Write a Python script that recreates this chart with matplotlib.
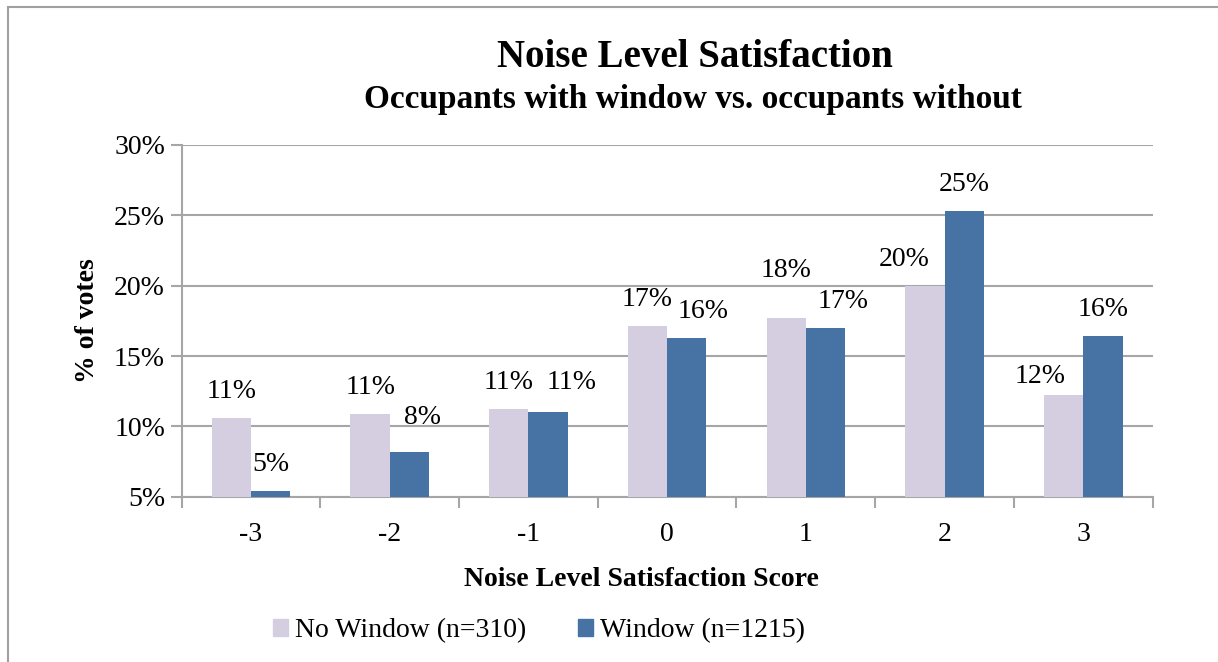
import matplotlib
matplotlib.use("Agg")
import matplotlib.pyplot as plt
from matplotlib.patches import Patch, Rectangle
import numpy as np

categories = ["-3", "-2", "-1", "0", "1", "2", "3"]
no_window = [10.6, 10.9, 11.2, 17.1, 17.7, 20.0, 12.2]
window = [5.4, 8.2, 11.0, 16.3, 17.0, 25.3, 16.4]
series_names = ["No Window (n=310)", "Window (n=1215)"]
yticks = [5, 10, 15, 20, 25, 30]

# data-label nudges (pixels: right, up) as placed in the reference
nw_label_dx = [0, 0, 0, 0, 0, -21, -24]
nw_label_dy = [20, 20, 20, 20, 41, 20, 12]
w_label_dx = [0, 13, 24, 16, 18, 0, 0]
w_label_dy = [20, 28, 23, 20, 20, 20, 20]

FONT = "Liberation Serif"
c_nw = "#D5CEE1"
c_w = "#4672A4"
grid_c = "#A6A6A6"
PX = 0.72  # points per pixel at dpi 100

fig = plt.figure(figsize=(12.18, 6.62), dpi=100)
ax = fig.add_axes([181.7/1218, 1-496.7/662, (1152.6-181.7)/1218, (496.7-145)/662])

x = np.arange(len(categories))
w = 0.283
ax.bar(x - w/2, np.array(no_window) - 5, width=w, bottom=5, color=c_nw, zorder=3)
ax.bar(x + w/2, np.array(window) - 5, width=w, bottom=5, color=c_w, zorder=3)

for xs, vals, dxs, dys in [(x - w/2, no_window, nw_label_dx, nw_label_dy),
                           (x + w/2, window, w_label_dx, w_label_dy)]:
    for xi, v, dx, dy in zip(xs, vals, dxs, dys):
        ax.annotate(f"{v:.0f}%", (xi, v), xytext=(dx*PX, dy*PX), textcoords="offset points",
                    ha="center", va="baseline", fontsize=20, family=FONT)

ax.set_xlim(-0.5, 6.5)
ax.set_ylim(5, 30)
ax.set_yticks(yticks)
ax.set_yticklabels([f"{t}%" for t in yticks], fontsize=20, family=FONT)
ax.set_xticks(x)
ax.set_xticklabels(categories, fontsize=20, family=FONT)
ax.set_xticks(np.arange(-0.5, 7, 1), minor=True)
ax.tick_params(axis="x", which="major", length=0, pad=18.5)
ax.tick_params(axis="x", which="minor", length=8, width=1.5, color=grid_c, direction="out")
ax.tick_params(axis="y", length=8, width=1.5, color=grid_c, direction="out", pad=4)
ax.yaxis.grid(True, color=grid_c, linewidth=1.5, zorder=0)
ax.set_axisbelow(True)
for s in ["top", "right"]:
    ax.spines[s].set_visible(False)
for s in ["left", "bottom"]:
    ax.spines[s].set_color(grid_c)
    ax.spines[s].set_linewidth(1.5)

ax.set_ylabel("% of votes", fontsize=20, fontweight="bold", family=FONT, labelpad=10)
ax.set_xlabel("Noise Level Satisfaction Score", fontsize=20, fontweight="bold", family=FONT)
ax.xaxis.set_label_coords((641 - 181.7) / (1152.6 - 181.7), -(586 - 496.7) / (496.7 - 145))
ax.xaxis.label.set_verticalalignment("baseline")

fig.text(695/1218, 1-67/662, "Noise Level Satisfaction", ha="center", va="baseline",
         fontsize=28, fontweight="bold", family=FONT)
fig.text(693/1218, 1-108/662, "Occupants with window vs. occupants without", ha="center", va="baseline",
         fontsize=24, fontweight="bold", family=FONT)

handles = [Patch(color=c_nw), Patch(color=c_w)]
fig.legend(handles, series_names, loc="center", bbox_to_anchor=(539/1218, 1-631/662),
           ncol=2, frameon=False, prop={"family": FONT, "size": 20},
           handlelength=0.55, handleheight=0.55, handletextpad=0.25, columnspacing=1.85)

fig.patches.append(Rectangle((8/1218, -0.1), 1.2, 1-7/662+0.1, transform=fig.transFigure,
                             fill=False, edgecolor="#A0A0A0", linewidth=1.5))

fig.savefig("out.png", dpi=100)
